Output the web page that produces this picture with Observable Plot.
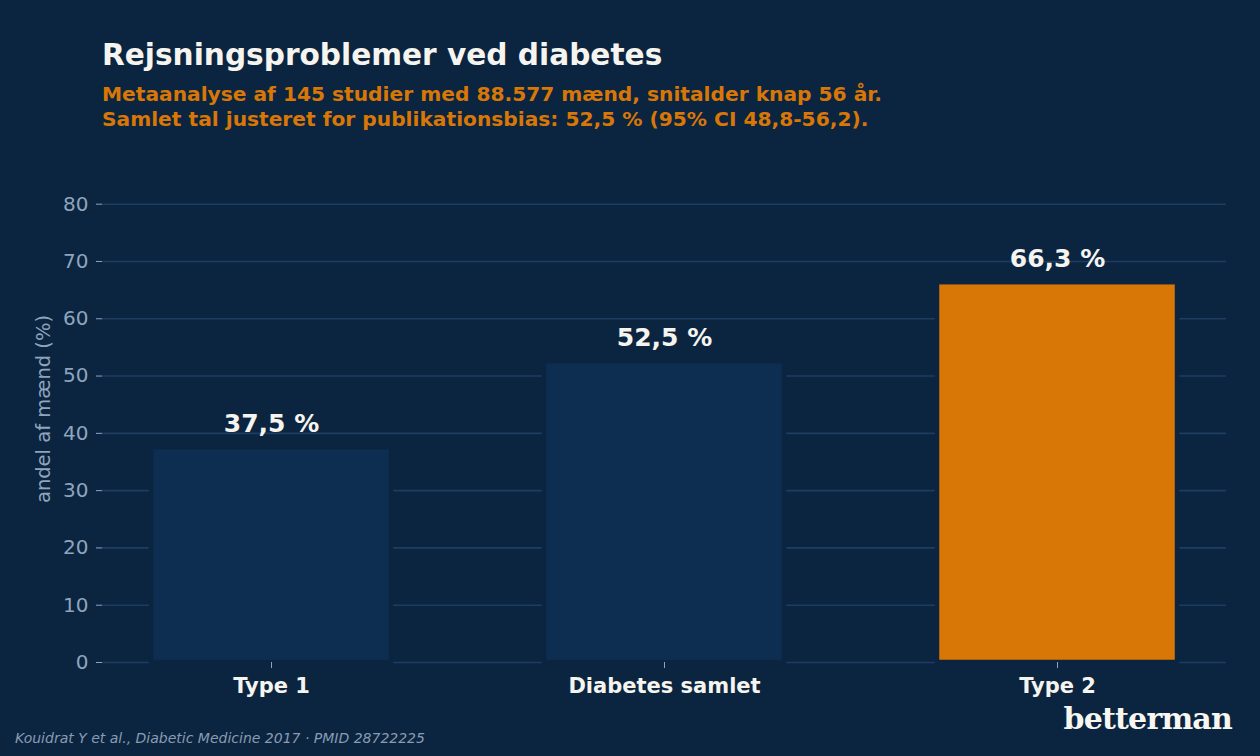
<!DOCTYPE html>
<html lang="da">
<head>
<meta charset="utf-8">
<script src="https://cdn.jsdelivr.net/npm/d3@7"></script>
<script src="https://cdn.jsdelivr.net/npm/@observablehq/plot@0.6"></script>
<style>
  html, body { margin: 0; padding: 0; }
  body {
    width: 1260px; height: 756px; overflow: hidden; position: relative;
    background: #0b2540; font-family: "DejaVu Sans", sans-serif;
  }
  .title {
    position: absolute; left: 102px; top: 37px;
    font-size: 29.6px; font-weight: bold; color: #f6f4ef; line-height: 36px; white-space: nowrap;
  }
  .subtitle {
    position: absolute; left: 102px; top: 82px;
    font-size: 20.2px; font-weight: bold; color: #d97706; line-height: 24.5px; white-space: nowrap;
  }
  #chart { position: absolute; left: 0; top: 140px; }
  .caption {
    position: absolute; left: 15px; top: 730px;
    font-size: 14px; font-style: italic; color: #8a9bb2; white-space: nowrap;
  }
  .logo {
    position: absolute; right: 28px; top: 701px;
    font-family: "DejaVu Serif", serif; font-weight: bold; font-size: 30px;
    letter-spacing: -0.8px; color: #f8f6f1; white-space: nowrap;
  }
</style>
</head>
<body>
<div class="title">Rejsningsproblemer ved diabetes</div>
<div class="subtitle">Metaanalyse af 145 studier med 88.577 mænd, snitalder knap 56 år.<br>Samlet tal justeret for publikationsbias: 52,5 % (95% CI 48,8-56,2).</div>
<div id="chart"></div>
<div class="caption">Kouidrat Y et al., Diabetic Medicine 2017 · PMID 28722225</div>
<div class="logo">betterman</div>
<script>
// Prevalence of erectile dysfunction by diabetes type
const categories = ["Type 1", "Diabetes samlet", "Type 2"];
const values = [37.5, 52.5, 66.3];
const yTicks = [0, 10, 20, 30, 40, 50, 60, 70, 80];
const yLabel = "andel af mænd (%)";

const bg = "#0b2540";
const navy = "#0e2e51";
const orange = "#d97706";
const gridColor = "#1d3d62";
const tickText = "#8fa4bd";
const white = "#f6f4ef";

const rows = categories.map((category, i) => ({category, value: values[i]}));
const fmt = v => d3.format(".1f")(v).replace(".", ",") + " %";

const chart = Plot.plot({
  width: 1260,
  height: 570,
  marginLeft: 102,
  marginRight: 34,
  marginTop: 15,
  marginBottom: 48,
  style: {background: "transparent", fontFamily: "DejaVu Sans, sans-serif"},
  x: {type: "band", domain: categories, range: [74.5, 1253.5], paddingInner: 0.39, paddingOuter: 0.195},
  y: {domain: [0, 88.5]},
  color: {domain: categories, range: [navy, navy, orange]},
  marks: [
    Plot.ruleY(yTicks, {stroke: gridColor, strokeWidth: 1.6}),
    Plot.barY(rows, {x: "category", y: "value", fill: "category", stroke: bg, strokeWidth: 4.5}),
    Plot.text(rows, {
      x: "category", y: "value", text: d => fmt(d.value),
      dy: -24, fill: white, fontSize: 25, fontWeight: "bold", lineAnchor: "middle"
    }),
    Plot.axisY(yTicks, {
      tickSize: 6, tickPadding: 8, stroke: tickText, fill: tickText,
      fontSize: 20, label: null, tickFormat: d => d
    }),
    Plot.text([yLabel], {
      frameAnchor: "left", textAnchor: "middle", rotate: -90, dx: -59,
      fill: tickText, fontSize: 19.5
    }),
    Plot.axisX({
      tickSize: 6, tickPadding: 10, stroke: tickText, fill: white,
      fontSize: 21, fontWeight: "bold", label: null
    })
  ]
});
document.getElementById("chart").appendChild(chart);
</script>
</body>
</html>
